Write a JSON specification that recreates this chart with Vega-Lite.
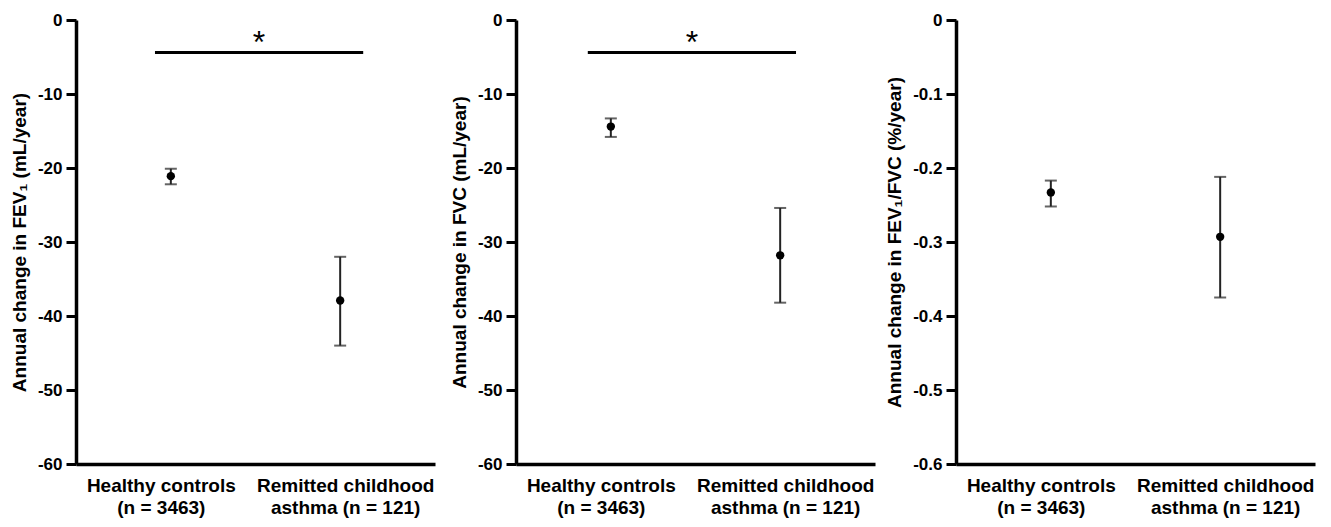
{
  "$schema": "https://vega.github.io/schema/vega-lite/v6.json",
  "background": "white",
  "padding": {"left": 10, "top": 11, "right": 5, "bottom": 5},
  "bounds": "flush",
  "spacing": 81,
  "config": {
    "view": {"stroke": null},
    "font": "Liberation Sans",
    "axis": {
      "domainColor": "black",
      "domainWidth": 3.5,
      "tickColor": "black",
      "tickWidth": 3,
      "labelColor": "black",
      "titleColor": "black",
      "labelFont": "Liberation Sans",
      "titleFont": "Liberation Sans",
      "labelFontWeight": "bold",
      "titleFontWeight": "bold",
      "grid": false
    }
  },
  "datasets": {
    "fev1": [
      {"group": "Healthy controls (n = 3463)", "mean": -21.1, "lo": -22.2, "hi": -20.1},
      {"group": "Remitted childhood asthma (n = 121)", "mean": -37.9, "lo": -44.0, "hi": -32.0}
    ],
    "fvc": [
      {"group": "Healthy controls (n = 3463)", "mean": -14.4, "lo": -15.8, "hi": -13.3},
      {"group": "Remitted childhood asthma (n = 121)", "mean": -31.8, "lo": -38.2, "hi": -25.4}
    ],
    "ratio": [
      {"group": "Healthy controls (n = 3463)", "mean": -0.233, "lo": -0.252, "hi": -0.217},
      {"group": "Remitted childhood asthma (n = 121)", "mean": -0.293, "lo": -0.375, "hi": -0.212}
    ],
    "sig1": [{"start": 0.22, "end": 0.8, "mid": 0.51, "y": -4.4, "ystar": -4.4, "label": "*"}],
    "sig2": [{"start": 0.2, "end": 0.78, "mid": 0.49, "y": -4.4, "ystar": -4.4, "label": "*"}]
  },
  "hconcat": [
    {
      "width": 359,
      "height": 444,
      "resolve": {"scale": {"x": "independent"}, "axis": {"x": "independent"}},
      "layer": [
        {
          "data": {"name": "fev1"},
          "layer": [
            {
              "mark": {"type": "rule", "color": "#222", "strokeWidth": 2},
              "encoding": {
                "x": {"field": "group", "type": "nominal", "sort": null, "scale": {"type": "point", "padding": 0.56},
                  "axis": {"title": null, "ticks": false, "labelAngle": 0, "labelFontSize": 19, "labelFontWeight": "bold", "labelColor": "black", "labelPadding": 12, "labelLineHeight": 22, "labelBaseline": "top", "domainWidth": 3.5, "domainColor": "black",
                    "labelOffset": {"condition": {"test": "datum.value == 'Healthy controls (n = 3463)'", "value": -10}, "value": 5},
                    "labelExpr": "datum.value == 'Healthy controls (n = 3463)' ? ['Healthy controls', '(n = 3463)'] : ['Remitted childhood', 'asthma (n = 121)']"}},
                "y": {"field": "lo", "type": "quantitative", "scale": {"domain": [-60, 0], "nice": false, "zero": false},
                  "axis": {"title": "Annual change in FEV₁ (mL/year)", "titleFontSize": 19, "titlePadding": 8, "values": [0, -10, -20, -30, -40, -50, -60], "tickSize": 10, "tickWidth": 3, "tickColor": "black", "domainWidth": 3.5, "domainColor": "black", "labelFontSize": 17, "labelFontWeight": "bold", "labelColor": "black", "labelPadding": 4, "labelExpr": "replace(datum.label, '−', '-')"}},
                "y2": {"field": "hi"}
              }
            },
            {
              "mark": {"type": "tick", "orient": "horizontal", "color": "#222", "size": 12, "thickness": 2},
              "encoding": {"x": {"field": "group", "type": "nominal", "sort": null}, "y": {"field": "lo", "type": "quantitative"}}
            },
            {
              "mark": {"type": "tick", "orient": "horizontal", "color": "#222", "size": 12, "thickness": 2},
              "encoding": {"x": {"field": "group", "type": "nominal", "sort": null}, "y": {"field": "hi", "type": "quantitative"}}
            },
            {
              "mark": {"type": "point", "shape": "circle", "filled": true, "size": 70, "color": "black", "opacity": 1},
              "encoding": {"x": {"field": "group", "type": "nominal", "sort": null}, "y": {"field": "mean", "type": "quantitative"}}
            }
          ]
        },
        {
          "data": {"name": "sig1"},
          "layer": [
            {
              "mark": {"type": "rule", "color": "black", "strokeWidth": 3},
              "encoding": {
                "x": {"field": "start", "type": "quantitative", "scale": {"domain": [0, 1]}, "axis": null},
                "x2": {"field": "end"},
                "y": {"field": "y", "type": "quantitative"}
              }
            },
            {
              "mark": {"type": "text", "fontSize": 32, "font": "Liberation Sans", "color": "black", "baseline": "alphabetic", "align": "center"},
              "encoding": {
                "x": {"field": "mid", "type": "quantitative", "scale": {"domain": [0, 1]}, "axis": null},
                "y": {"field": "ystar", "type": "quantitative"},
                "text": {"field": "label"}
              }
            }
          ]
        }
      ]
    },
    {
      "width": 359,
      "height": 444,
      "resolve": {"scale": {"x": "independent"}, "axis": {"x": "independent"}},
      "layer": [
        {
          "data": {"name": "fvc"},
          "layer": [
            {
              "mark": {"type": "rule", "color": "#222", "strokeWidth": 2},
              "encoding": {
                "x": {"field": "group", "type": "nominal", "sort": null, "scale": {"type": "point", "padding": 0.56},
                  "axis": {"title": null, "ticks": false, "labelAngle": 0, "labelFontSize": 19, "labelFontWeight": "bold", "labelColor": "black", "labelPadding": 12, "labelLineHeight": 22, "labelBaseline": "top", "domainWidth": 3.5, "domainColor": "black",
                    "labelOffset": {"condition": {"test": "datum.value == 'Healthy controls (n = 3463)'", "value": -10}, "value": 5},
                    "labelExpr": "datum.value == 'Healthy controls (n = 3463)' ? ['Healthy controls', '(n = 3463)'] : ['Remitted childhood', 'asthma (n = 121)']"}},
                "y": {"field": "lo", "type": "quantitative", "scale": {"domain": [-60, 0], "nice": false, "zero": false},
                  "axis": {"title": "Annual change in FVC (mL/year)", "titleFontSize": 19, "titlePadding": 8, "values": [0, -10, -20, -30, -40, -50, -60], "tickSize": 10, "tickWidth": 3, "tickColor": "black", "domainWidth": 3.5, "domainColor": "black", "labelFontSize": 17, "labelFontWeight": "bold", "labelColor": "black", "labelPadding": 4, "labelExpr": "replace(datum.label, '−', '-')"}},
                "y2": {"field": "hi"}
              }
            },
            {
              "mark": {"type": "tick", "orient": "horizontal", "color": "#222", "size": 12, "thickness": 2},
              "encoding": {"x": {"field": "group", "type": "nominal", "sort": null}, "y": {"field": "lo", "type": "quantitative"}}
            },
            {
              "mark": {"type": "tick", "orient": "horizontal", "color": "#222", "size": 12, "thickness": 2},
              "encoding": {"x": {"field": "group", "type": "nominal", "sort": null}, "y": {"field": "hi", "type": "quantitative"}}
            },
            {
              "mark": {"type": "point", "shape": "circle", "filled": true, "size": 70, "color": "black", "opacity": 1},
              "encoding": {"x": {"field": "group", "type": "nominal", "sort": null}, "y": {"field": "mean", "type": "quantitative"}}
            }
          ]
        },
        {
          "data": {"name": "sig2"},
          "layer": [
            {
              "mark": {"type": "rule", "color": "black", "strokeWidth": 3},
              "encoding": {
                "x": {"field": "start", "type": "quantitative", "scale": {"domain": [0, 1]}, "axis": null},
                "x2": {"field": "end"},
                "y": {"field": "y", "type": "quantitative"}
              }
            },
            {
              "mark": {"type": "text", "fontSize": 32, "font": "Liberation Sans", "color": "black", "baseline": "alphabetic", "align": "center"},
              "encoding": {
                "x": {"field": "mid", "type": "quantitative", "scale": {"domain": [0, 1]}, "axis": null},
                "y": {"field": "ystar", "type": "quantitative"},
                "text": {"field": "label"}
              }
            }
          ]
        }
      ]
    },
    {
      "width": 359,
      "height": 444,
      "data": {"name": "ratio"},
      "layer": [
        {
          "mark": {"type": "rule", "color": "#222", "strokeWidth": 2},
          "encoding": {
            "x": {"field": "group", "type": "nominal", "sort": null, "scale": {"type": "point", "padding": 0.56},
              "axis": {"title": null, "ticks": false, "labelAngle": 0, "labelFontSize": 19, "labelFontWeight": "bold", "labelColor": "black", "labelPadding": 12, "labelLineHeight": 22, "labelBaseline": "top", "domainWidth": 3.5, "domainColor": "black",
                "labelOffset": {"condition": {"test": "datum.value == 'Healthy controls (n = 3463)'", "value": -10}, "value": 5},
                "labelExpr": "datum.value == 'Healthy controls (n = 3463)' ? ['Healthy controls', '(n = 3463)'] : ['Remitted childhood', 'asthma (n = 121)']"}},
            "y": {"field": "lo", "type": "quantitative", "scale": {"domain": [-0.6, 0], "nice": false, "zero": false},
              "axis": {"title": "Annual change in FEV₁/FVC (%/year)", "titleFontSize": 19, "titlePadding": 8, "values": [0, -0.1, -0.2, -0.3, -0.4, -0.5, -0.6], "format": ".1~f", "tickSize": 10, "tickWidth": 3, "tickColor": "black", "domainWidth": 3.5, "domainColor": "black", "labelFontSize": 17, "labelFontWeight": "bold", "labelColor": "black", "labelPadding": 4, "labelExpr": "replace(datum.label, '−', '-')"}},
            "y2": {"field": "hi"}
          }
        },
        {
          "mark": {"type": "tick", "orient": "horizontal", "color": "#222", "size": 12, "thickness": 2},
          "encoding": {"x": {"field": "group", "type": "nominal", "sort": null}, "y": {"field": "lo", "type": "quantitative"}}
        },
        {
          "mark": {"type": "tick", "orient": "horizontal", "color": "#222", "size": 12, "thickness": 2},
          "encoding": {"x": {"field": "group", "type": "nominal", "sort": null}, "y": {"field": "hi", "type": "quantitative"}}
        },
        {
          "mark": {"type": "point", "shape": "circle", "filled": true, "size": 70, "color": "black", "opacity": 1},
          "encoding": {"x": {"field": "group", "type": "nominal", "sort": null}, "y": {"field": "mean", "type": "quantitative"}}
        }
      ]
    }
  ]
}
